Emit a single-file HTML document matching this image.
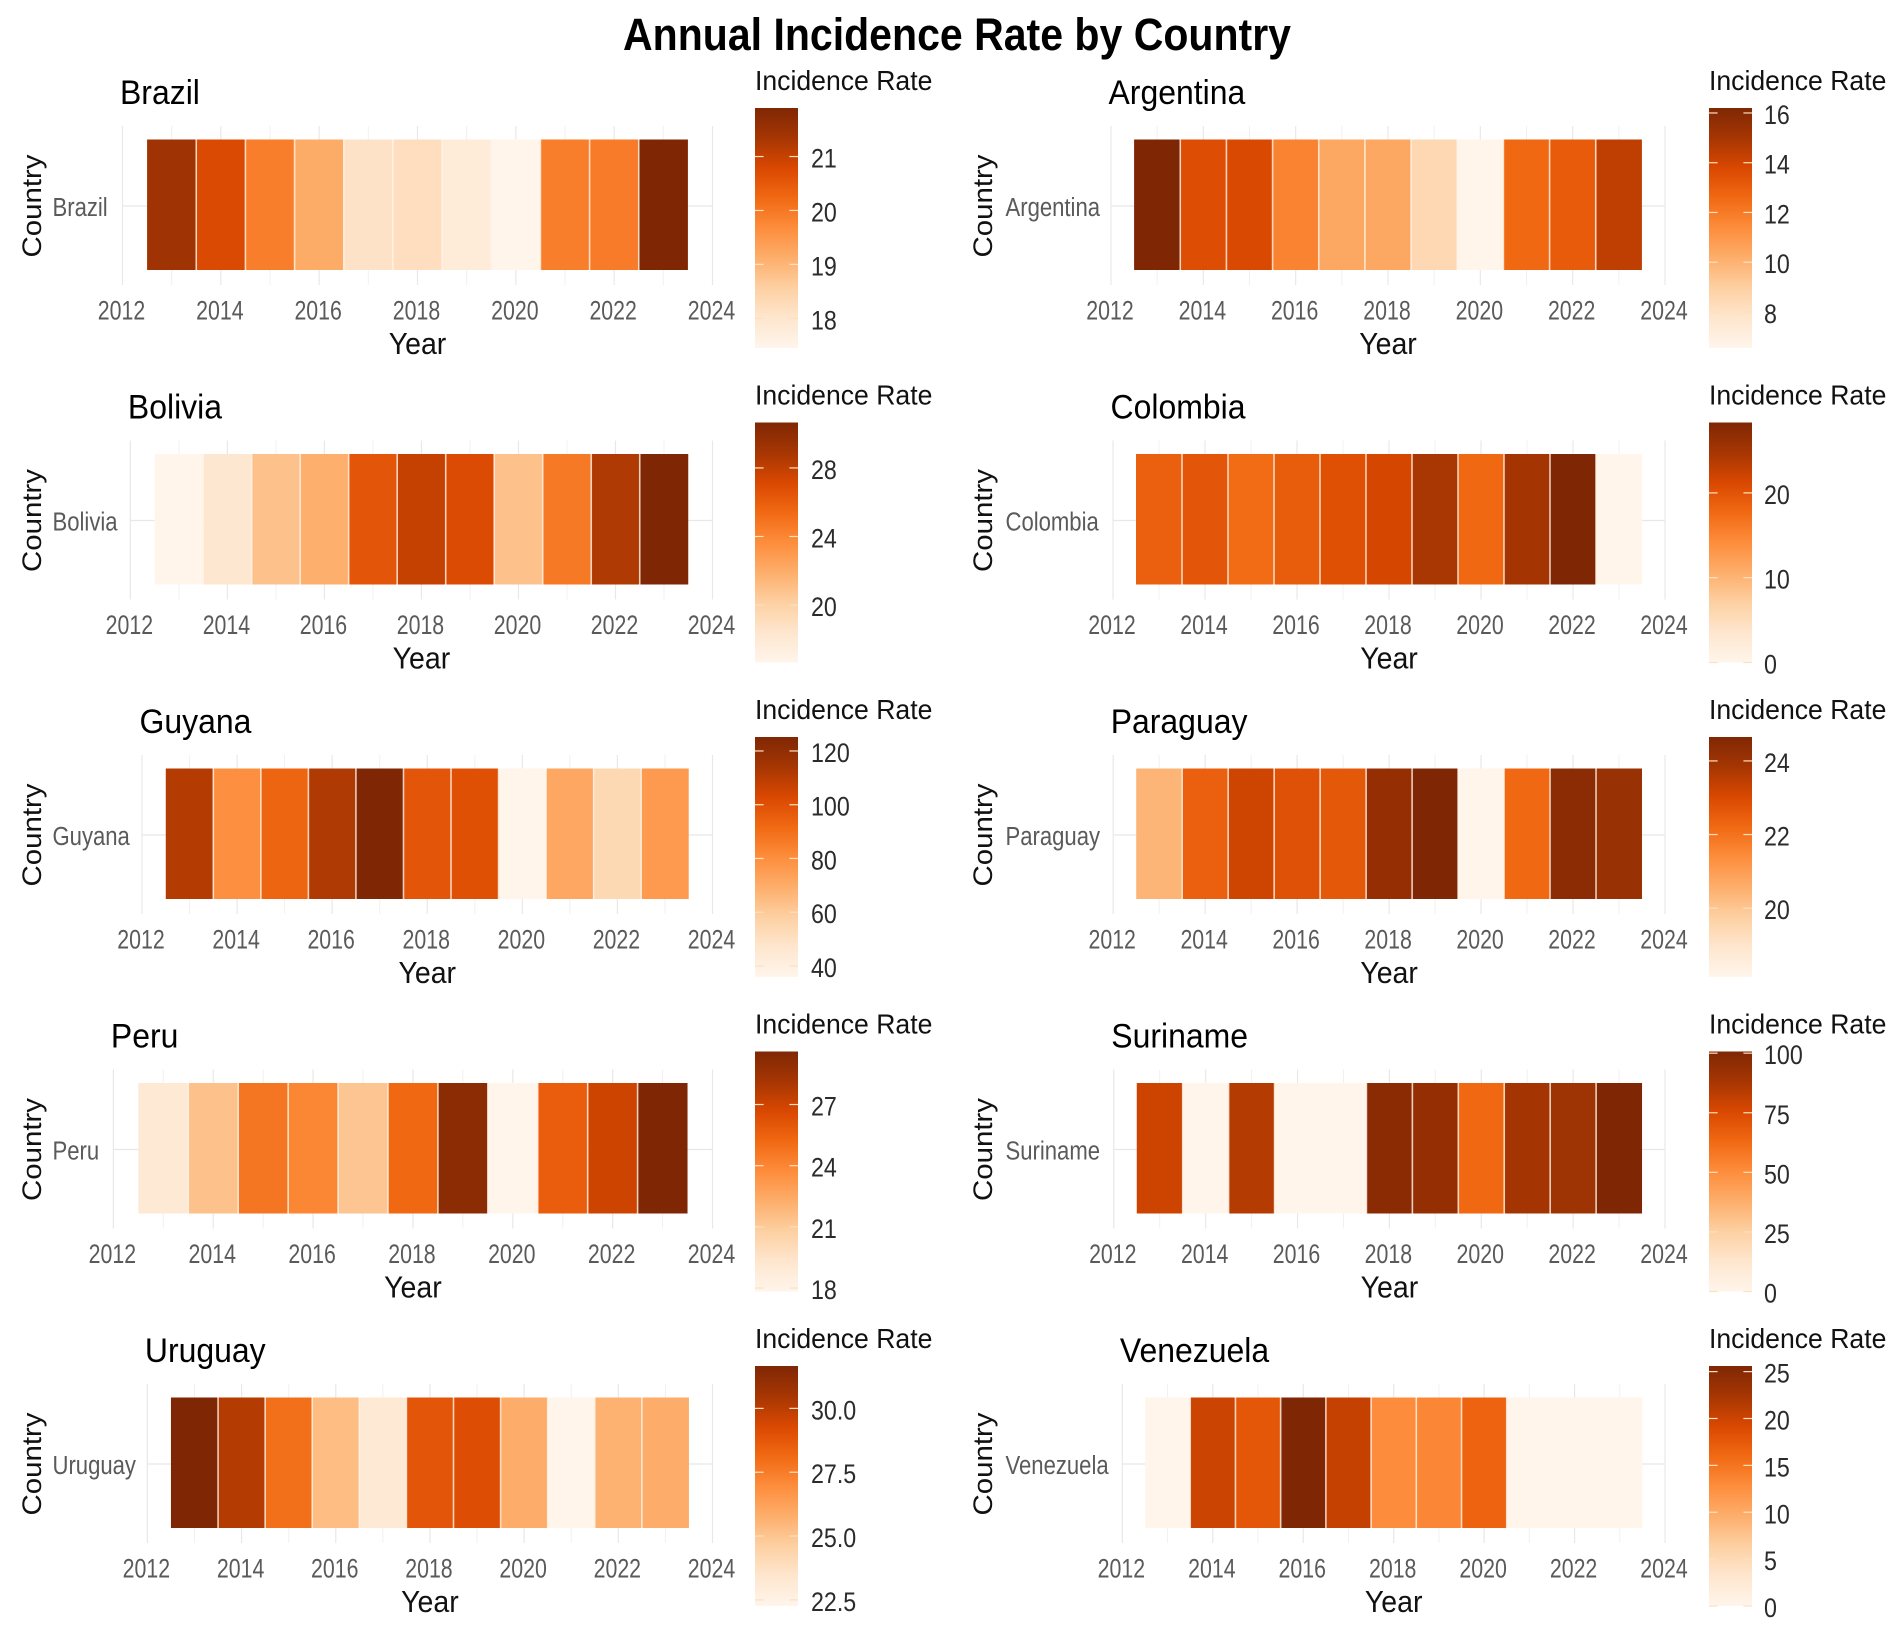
<!DOCTYPE html>
<html lang="en">
<head>
<meta charset="utf-8">
<title>Annual Incidence Rate by Country</title>
<style>
  html, body { margin: 0; padding: 0; background: #ffffff; }
  #chart { display: block; width: 1902px; height: 1631px; font-family: "Liberation Sans", Arial, sans-serif; }
</style>
</head>
<body>
<svg id="chart" xmlns="http://www.w3.org/2000/svg" width="1902" height="1631" viewBox="0 0 1902 1631">
  <defs>
    <linearGradient id="oranges-gradient" x1="0" y1="1" x2="0" y2="0">
      <stop offset="0" stop-color="#FFF5EB"/>
      <stop offset="0.125" stop-color="#FEE6CE"/>
      <stop offset="0.25" stop-color="#FDD0A2"/>
      <stop offset="0.375" stop-color="#FDAE6B"/>
      <stop offset="0.5" stop-color="#FD8D3C"/>
      <stop offset="0.625" stop-color="#F16913"/>
      <stop offset="0.75" stop-color="#D94801"/>
      <stop offset="0.875" stop-color="#A63603"/>
      <stop offset="1" stop-color="#7F2704"/>
    </linearGradient>
  </defs>
  <rect x="0" y="0" width="1902" height="1631" fill="#ffffff"/>
  <text x="957" y="50" text-anchor="middle" font-size="45" font-weight="700" fill="#000000" textLength="668" lengthAdjust="spacingAndGlyphs">Annual Incidence Rate by Country</text>
  <g id="panels"></g>
</svg>
<script>
// ---- Data ----
const years = [2013, 2014, 2015, 2016, 2017, 2018, 2019, 2020, 2021, 2022, 2023];
const xTickYears = [2012, 2014, 2016, 2018, 2020, 2022, 2024];
const minorYears = [2013, 2015, 2017, 2019, 2021, 2023];

const brazilValues    = [21.45, 20.75, 19.9, 19.15, 18.1, 18.2, 17.8, 17.45, 19.9, 19.95, 21.9];
const argentinaValues = [16.2, 13.6, 13.75, 11.7, 10.4, 10.4, 8.5, 6.55, 12.6, 13.1, 14.4];
const boliviaValues   = [16.65, 18.3, 20.85, 21.8, 26.45, 27.85, 27.0, 20.85, 24.6, 28.55, 30.65];
const colombiaValues  = [18.7, 19.8, 17.5, 19.0, 20.4, 21.5, 24.6, 17.8, 24.9, 28.3, 0];
const guyanaValues    = [110.9, 79.7, 93.0, 111.8, 125.2, 98.4, 100.2, 35.9, 71.6, 53.8, 76.1];
const paraguayValues  = [20.4, 22.43, 23.2, 22.8, 22.63, 24.2, 24.65, 18.13, 22.24, 24.4, 24.13];
const peruValues      = [19.0, 21.4, 24.66, 23.95, 21.24, 25.25, 29.1, 17.83, 25.7, 27.0, 29.6];
const surinameValues  = [78.5, 0, 84.6, 0, 0, 97.0, 93.7, 63.4, 88.6, 90.6, 100.7];
const uruguayValues   = [31.66, 30.16, 27.9, 25.27, 23.2, 28.84, 29.12, 25.83, 22.26, 25.64, 25.83];
const venezuelaValues = [0, 20.0, 17.7, 25.6, 20.5, 12.8, 13.3, 16.6, 0, 0, 0];

const brazilTicks    = ['18', '19', '20', '21'];
const argentinaTicks = ['8', '10', '12', '14', '16'];
const boliviaTicks   = ['20', '24', '28'];
const colombiaTicks  = ['0', '10', '20'];
const guyanaTicks    = ['40', '60', '80', '100', '120'];
const paraguayTicks  = ['20', '22', '24'];
const peruTicks      = ['18', '21', '24', '27'];
const surinameTicks  = ['0', '25', '50', '75', '100'];
const uruguayTicks   = ['22.5', '25.0', '27.5', '30.0'];
const venezuelaTicks = ['0', '5', '10', '15', '20', '25'];

const countries = ['Brazil', 'Argentina', 'Bolivia', 'Colombia', 'Guyana', 'Paraguay', 'Peru', 'Suriname', 'Uruguay', 'Venezuela'];
const seriesValues = [brazilValues, argentinaValues, boliviaValues, colombiaValues, guyanaValues, paraguayValues, peruValues, surinameValues, uruguayValues, venezuelaValues];
const seriesTicks = [brazilTicks, argentinaTicks, boliviaTicks, colombiaTicks, guyanaTicks, paraguayTicks, peruTicks, surinameTicks, uruguayTicks, venezuelaTicks];

// ---- Layout (panel left edge depends on the width of the country label) ----
const panelLefts = [122.5, 1111, 130.4, 1113, 142, 1113.2, 113.4, 1113.8, 147.4, 1122.4];

const paletteStops = [[255,245,235],[254,230,206],[253,208,162],[253,174,107],[253,141,60],[241,105,19],[217,72,1],[166,54,3],[127,39,4]];
const SVG_NS = 'http://www.w3.org/2000/svg';
const root = document.getElementById('panels');

function make(tag, attrs, parent) {
  const el = document.createElementNS(SVG_NS, tag);
  Object.keys(attrs).forEach(function (k) { el.setAttribute(k, attrs[k]); });
  parent.appendChild(el);
  return el;
}

function makeText(str, x, y, size, sx, fill, anchor, rotate, parent) {
  const t = 'translate(' + x + ',' + y + ')' + (rotate ? ' rotate(-90)' : '') + ' scale(' + sx + ',1)';
  const el = make('text', { transform: t, 'font-size': size, fill: fill, 'text-anchor': anchor }, parent);
  el.textContent = str;
  return el;
}

function fillColor(t) {
  const p = Math.max(0, Math.min(1, t)) * (paletteStops.length - 1);
  const i = Math.min(paletteStops.length - 2, Math.floor(p));
  const f = p - i;
  const c = paletteStops[i].map(function (v, k) {
    return Math.round(v + (paletteStops[i + 1][k] - v) * f);
  });
  return 'rgb(' + c.join(',') + ')';
}

countries.forEach(function (country, idx) {
  const values = seriesValues[idx];
  const ticks = seriesTicks[idx];
  const col = idx % 2;
  const row = Math.floor(idx / 2);
  const dy = row * 314.5;
  const slug = country.toLowerCase();

  const panelLeft = panelLefts[idx];
  const panelRight = col === 0 ? 712.5 : 1665;
  const panelTop = 126 + dy;
  const panelBottom = 285 + dy;
  const tileTop = 139.5 + dy;
  const tileBottom = 270 + dy;
  const midY = 206 + dy;
  const labelLeft = col === 0 ? 52.5 : 1005.5;
  const axisTitleX = col === 0 ? 41 : 992;
  const legendX = col === 0 ? 755 : 1709;
  const legendW = 43;
  const legendTop = 108 + dy;
  const legendBottom = 348 + dy;
  const legendLabelX = col === 0 ? 811 : 1764;

  const xScale = function (year) {
    return panelLeft + (year - 2012) * (panelRight - panelLeft) / 12;
  };
  const vMin = Math.min.apply(null, values);
  const vMax = Math.max.apply(null, values);
  const norm = function (v) { return (v - vMin) / (vMax - vMin); };
  const legendY = function (v) { return legendBottom - norm(v) * (legendBottom - legendTop); };

  const g = make('g', {}, root);
  
  

  minorYears.forEach(function (yr) {
    const l = make('line', { x1: xScale(yr), x2: xScale(yr), y1: panelTop, y2: panelBottom, stroke: '#f1f1f1', 'stroke-width': 1 }, g);
    
    
  });
  xTickYears.forEach(function (yr) {
    const l = make('line', { x1: xScale(yr), x2: xScale(yr), y1: panelTop, y2: panelBottom, stroke: '#e8e8e8', 'stroke-width': 1.2 }, g);
    
    
  });
  const hLine = make('line', { x1: panelLeft, x2: panelRight, y1: midY, y2: midY, stroke: '#e8e8e8', 'stroke-width': 1.2 }, g);
  
  

  years.forEach(function (yr, i) {
    const x0 = xScale(yr - 0.5);
    const x1 = xScale(yr + 0.5);
    const r = make('rect', { x: x0, y: tileTop, width: x1 - x0, height: tileBottom - tileTop, fill: fillColor(norm(values[i])) }, g);
    
    
  });
  years.slice(0, -1).forEach(function (yr) {
    const sep = make('line', { x1: xScale(yr + 0.5), x2: xScale(yr + 0.5), y1: tileTop, y2: tileBottom, stroke: '#fff4e8', 'stroke-width': 1.6, 'stroke-opacity': 0.8 }, g);
    
    
  });

  const title = makeText(country, panelLeft - 2.5, 104 + dy, 34, 0.94, '#000000', 'start', false, g);
  
  

  const yLabel = makeText(country, labelLeft, 216 + dy, 26, 0.85, '#5a5a5a', 'start', false, g);
  
  

  const yTitle = makeText('Country', axisTitleX, midY, 27, 1.09, '#111111', 'middle', true, g);
  
  

  xTickYears.forEach(function (yr) {
    const t = makeText(String(yr), xScale(yr) - 1, 319.5 + dy, 27, 0.79, '#5a5a5a', 'middle', false, g);
    
    
  });

  const xTitle = makeText('Year', (panelLeft + panelRight) / 2, 354 + dy, 31, 0.92, '#111111', 'middle', false, g);
  
  

  const legendTitle = makeText('Incidence Rate', legendX, 90 + dy, 28, 0.95, '#111111', 'start', false, g);
  
  

  const bar = make('rect', { x: legendX, y: legendTop, width: legendW, height: legendBottom - legendTop, fill: 'url(#oranges-gradient)' }, g);
  
  

  ticks.forEach(function (label) {
    const v = parseFloat(label);
    const y = legendY(v);
    const a = make('line', { x1: legendX, x2: legendX + 8.6, y1: y, y2: y, stroke: '#fde0c0', 'stroke-width': 1.2 }, g);
    
    
    const b = make('line', { x1: legendX + legendW - 8.6, x2: legendX + legendW, y1: y, y2: y, stroke: '#fde0c0', 'stroke-width': 1.2 }, g);
    
    
    const t = makeText(label, legendLabelX, y + 11, 27, 0.86, '#2b2b2b', 'start', false, g);
    
    
  });
});
</script>
</body>
</html>
